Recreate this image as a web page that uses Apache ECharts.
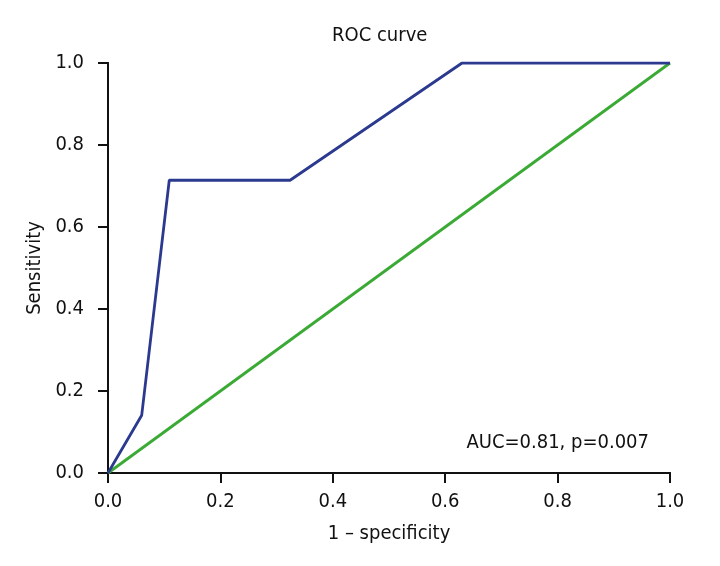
<!DOCTYPE html>
<html><head><meta charset="utf-8">
<script src="https://cdn.jsdelivr.net/npm/echarts@6/dist/echarts.min.js"></script>
<style>html,body{margin:0;padding:0;background:#fff}#c{width:720px;height:566px}</style>
</head><body><div id="c"></div>
<script>
const rocX = [0, 0.06, 0.109, 0.324, 0.63, 1.0];
const rocY = [0, 0.141, 0.714, 0.714, 1.0, 1.0];
const refX = [0, 1];
const refY = [0, 1];
const ticks = [0, 0.2, 0.4, 0.6, 0.8, 1.0];
const titleText = 'ROC curve';
const xName = '1 – specificity';
const yName = 'Sensitivity';
const note = 'AUC=0.81, p=0.007';

const FONT = '"Liberation Sans Narrow", "DejaVu Sans Condensed", "Open Sans", sans-serif';
const FS = 20;
const chart = echarts.init(document.getElementById('c'), null, {renderer: 'canvas'});
const axisCommon = {
  type: 'value', min: 0, max: 1, interval: 0.2,
  axisLine: {show: true, onZero: false, lineStyle: {color: '#111', width: 2}},
  axisTick: {show: true, length: 10, lineStyle: {color: '#111', width: 2}},
  splitLine: {show: false},
  axisLabel: {color: '#111', fontSize: FS, fontFamily: FONT, formatter: v => v.toFixed(1)},
  nameLocation: 'middle',
  nameTextStyle: {color: '#111', fontSize: FS, fontFamily: FONT}
};
chart.setOption({
  animation: false,
  backgroundColor: '#fff',
  title: {text: titleText, left: 327, top: 21, textStyle: {color: '#111', fontSize: FS, fontWeight: 'normal', fontFamily: FONT}},
  grid: {left: 108, right: 50, top: 63, bottom: 93, show: false},
  xAxis: [
    Object.assign({}, axisCommon, {name: xName, nameGap: 51, position: 'bottom', axisLabel: Object.assign({}, axisCommon.axisLabel, {margin: 19})}),
    {type: 'value', min: 0, max: 1, position: 'top', axisLine: {show: true, lineStyle: {color: '#111', width: 2}}, axisTick: {show: false}, axisLabel: {show: false}, splitLine: {show: false}}
  ],
  yAxis: [
    Object.assign({}, axisCommon, {name: yName, nameGap: 63, position: 'left', axisLabel: Object.assign({}, axisCommon.axisLabel, {margin: 24})}),
    {type: 'value', min: 0, max: 1, position: 'right', axisLine: {show: true, lineStyle: {color: '#111', width: 2}}, axisTick: {show: false}, axisLabel: {show: false}, splitLine: {show: false}}
  ],
  graphic: [{type: 'text', right: 71, top: 433, style: {text: note, fill: '#111', font: FS + 'px ' + FONT}}],
  series: [
    {type: 'line', data: refX.map((x, i) => [x, refY[i]]), symbol: 'none', lineStyle: {color: '#3aaa35', width: 2.8}},
    {type: 'line', data: rocX.map((x, i) => [x, rocY[i]]), symbol: 'none', lineStyle: {color: '#2b3a8f', width: 2.8}}
  ]
});
</script></body></html>
